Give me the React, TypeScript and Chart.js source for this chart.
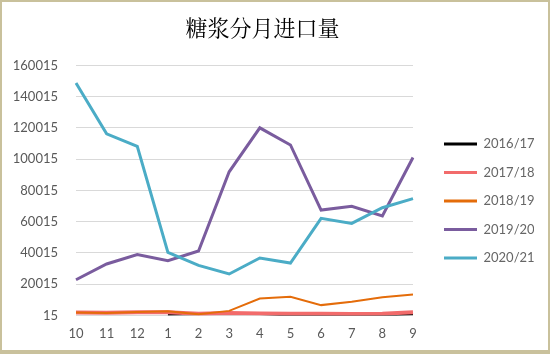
import React, { useEffect, useRef } from "react";
import { Chart, registerables } from "chart.js";

Chart.register(...registerables);

const title = "糖浆分月进口量";
const months = ["10", "11", "12", "1", "2", "3", "4", "5", "6", "7", "8", "9"];
const yTicks = [15, 20015, 40015, 60015, 80015, 100015, 120015, 140015, 160015];

const s1617 = [null, null, null, 800, 1200, 1200, 1300, 200, 200, 200, 200, 1100];
const s1718 = [1800, 1700, 2100, 2100, 1000, 1600, 1300, 1100, 1000, 900, 1000, 2100];
const s1819 = [1800, 1600, 2200, 2700, 800, 2900, 10800, 11900, 6600, 8700, 11700, 13400];
const s1920 = [22850, 32900, 38950, 35050, 41250, 91900, 120050, 109100, 67450, 69800, 63600, 101100];
const s2021 = [148800, 116200, 108200, 40400, 32000, 26500, 36750, 33550, 62100, 58900, 68950, 74750];

const seriesNames = ["2016/17", "2017/18", "2018/19", "2019/20", "2020/21"];
const seriesColors = ["#000000", "#F26B6B", "#E46C0A", "#7A5C9E", "#4BACC6"];
const seriesWidths = [3, 4, 2, 3, 3];
const seriesData = [s1617, s1718, s1819, s1920, s2021];

export default function App() {
  const ref = useRef<HTMLCanvasElement>(null);
  useEffect(() => {
    document.body.style.margin = "0";
    const font = "Lato, 'Open Sans', sans-serif";
    const chart = new Chart(ref.current!, {
      type: "line",
      data: {
        labels: months,
        datasets: seriesData.map((d, i) => ({
          label: seriesNames[i],
          data: d,
          borderColor: seriesColors[i],
          backgroundColor: seriesColors[i],
          borderWidth: seriesWidths[i],
          pointRadius: 0,
          tension: 0,
          spanGaps: false,
          order: -i,
        })),
      },
      options: {
        responsive: false,
        animation: false,
        devicePixelRatio: 1,
        layout: { padding: { left: -9, right: 16, top: 0, bottom: 1 } },
        plugins: {
          title: {
            display: true,
            text: title,
            color: "#000",
            font: { family: "'Noto Serif CJK SC', 'Noto Sans CJK SC', serif", size: 22, weight: "normal" },
            padding: { top: 14, bottom: 25 },
          },
          legend: {
            position: "right",
            fullSize: false,
            align: "center",
            maxWidth: 105.5,
            title: { display: true, text: " ", font: { size: 1 }, padding: { top: 0, bottom: 20 } },
            labels: {
              boxWidth: 33,
              boxHeight: 3,
              padding: 15.5,
              color: "#595959",
              font: { family: font, size: 13 },
              generateLabels: (c) =>
                c.data.datasets.map((ds, i) => ({
                  text: ds.label as string,
                  fillStyle: seriesColors[i],
                  strokeStyle: seriesColors[i],
                  lineWidth: 0,
                  hidden: false,
                  datasetIndex: i,
                })),
            },
          },
          tooltip: { enabled: false },
        },
        scales: {
          x: {
            grid: { display: false, drawTicks: false },
            border: { display: false },
            ticks: { color: "#595959", font: { family: font, size: 13 }, padding: 11, maxRotation: 0 },
          },
          y: {
            min: 15,
            max: 160015,
            grid: { color: "#D9D9D9", drawTicks: false, lineWidth: 1 },
            border: { display: false },
            ticks: {
              color: "#595959",
              font: { family: font, size: 13 },
              padding: 18,
              callback: (v: any) => String(v),
            },
            afterBuildTicks: (s: any) => {
              s.ticks = yTicks.map((v) => ({ value: v }));
            },
            afterFit: (s: any) => {
              s.width = 85;
            },
          },
          gap: {
            type: "linear",
            position: "right",
            display: false,
            afterFit: (s: any) => {
              s.width = 15.5;
            },
          },
        },
      },
    } as any);
    return () => chart.destroy();
  }, []);
  return (
    <div style={{ position: "relative", width: 550, height: 354, background: "#fff" }}>
      <canvas ref={ref} width={550} height={354} style={{ display: "block" }} />
      <div
        style={{
          position: "absolute",
          inset: 0,
          boxSizing: "border-box",
          borderStyle: "solid",
          borderColor: "#C9C19C",
          borderWidth: "2px 2px 4px 2px",
          pointerEvents: "none",
        }}
      />
    </div>
  );
}
